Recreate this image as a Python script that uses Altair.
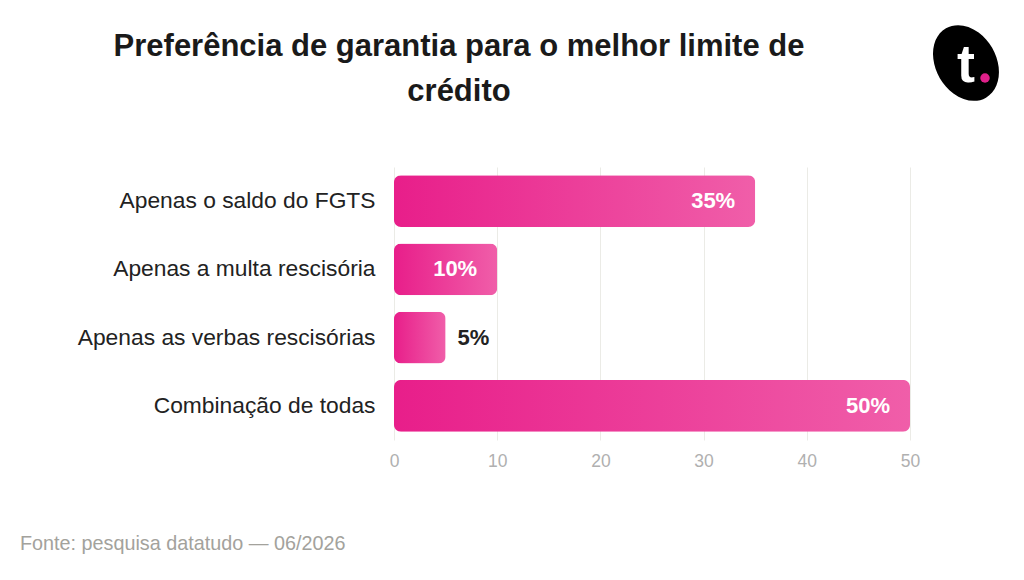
import altair as alt
import pandas as pd

categories = ["Apenas o saldo do FGTS", "Apenas a multa rescisória",
              "Apenas as verbas rescisórias", "Combinação de todas"]
values = [35, 10, 5, 50]
labels = ["35%", "10%", "5%", "50%"]
title_lines = ["Preferência de garantia para o melhor limite de", "crédito"]
source_text = "Fonte: pesquisa datatudo — 06/2026"

df = pd.DataFrame({"cat": categories, "v": values, "lab": labels})

FONT = "Liberation Sans"
W, H = 516, 273

grad = alt.Gradient(
    gradient="linear",
    stops=[alt.GradientStop(color="#e81e8a", offset=0),
           alt.GradientStop(color="#f05ea9", offset=1)],
    x1=0, x2=1, y1=0, y2=0,
)

y_enc = alt.Y("cat:N", sort=None, title=None,
              scale=alt.Scale(paddingInner=0.24, paddingOuter=0.12),
              axis=alt.Axis(labelFont=FONT, labelFontSize=22.8, labelColor="#222222",
                            labelPadding=19, ticks=False, domain=False, labelLimit=400))
x_enc = alt.X("v:Q", title=None,
              scale=alt.Scale(domain=[0, 50], nice=False),
              axis=alt.Axis(values=[0, 10, 20, 30, 40, 50], labelFont=FONT, labelFontSize=17.5,
                            labelColor="#b0b0b0", labelPadding=12, ticks=False, domain=False,
                            labelFlush=False,
                            grid=True, gridColor="#ebebe6", gridWidth=1))

base = alt.Chart(df)

bars = base.mark_bar(color=grad, cornerRadius=7).encode(x=x_enc, y=y_enc)

inside = base.transform_filter(alt.datum.v > 8).mark_text(
    align="right", baseline="middle", dx=-20, font=FONT, fontSize=22,
    fontWeight="bold", color="white"
).encode(x="v:Q", y=alt.Y("cat:N", sort=None), text="lab:N")

outside = base.transform_filter(alt.datum.v <= 8).mark_text(
    align="left", baseline="middle", dx=12, font=FONT, fontSize=22,
    fontWeight="bold", color="#222222"
).encode(x="v:Q", y=alt.Y("cat:N", sort=None), text="lab:N")

title = alt.Chart(pd.DataFrame({"t": [title_lines]})).mark_text(
    align="center", baseline="middle", font=FONT, fontSize=31, fontWeight="bold",
    color="#1a1a1a", lineHeight=45
).encode(x=alt.value(459 - 394), y=alt.value(47 - 167), text="t")

source = alt.Chart(pd.DataFrame({"t": [source_text]})).mark_text(
    align="left", baseline="middle", font=FONT, fontSize=19.8, color="#a3a29c"
).encode(x=alt.value(20 - 394), y=alt.value(544 - 167), text="t:N")

logo_path = "M -0.5 -0.866 A 0.75 1 -30 1 1 0.5 0.866 A 0.75 1 -30 1 1 -0.5 -0.866 Z"
logo = alt.Chart(pd.DataFrame({"a": [1]})).mark_point(
    shape=logo_path, filled=True, color="#000000", opacity=1, size=6400
).encode(x=alt.value(966 - 394), y=alt.value(63 - 167))
logo_t = alt.Chart(pd.DataFrame({"t": ["t"]})).mark_text(
    align="center", baseline="alphabetic", font=FONT, fontSize=54, fontWeight="bold", color="white"
).encode(x=alt.value(966 - 394), y=alt.value(82 - 167), text="t:N")
logo_dot = alt.Chart(pd.DataFrame({"a": [1]})).mark_point(
    shape="circle", filled=True, color="#e0208a", opacity=1, size=90
).encode(x=alt.value(985 - 394), y=alt.value(78 - 167))

chart = alt.layer(bars, inside, outside, title, source, logo, logo_t, logo_dot).properties(
    width=W, height=H,
    padding={"left": 386, "top": 159, "right": 1008 - 386 - W, "bottom": 564 - 159 - H},
    autosize=alt.AutoSizeParams(type="none"),
    background="white",
).configure_view(stroke=None)

chart.save("out.html", embed_options={"renderer": "svg", "actions": False})
